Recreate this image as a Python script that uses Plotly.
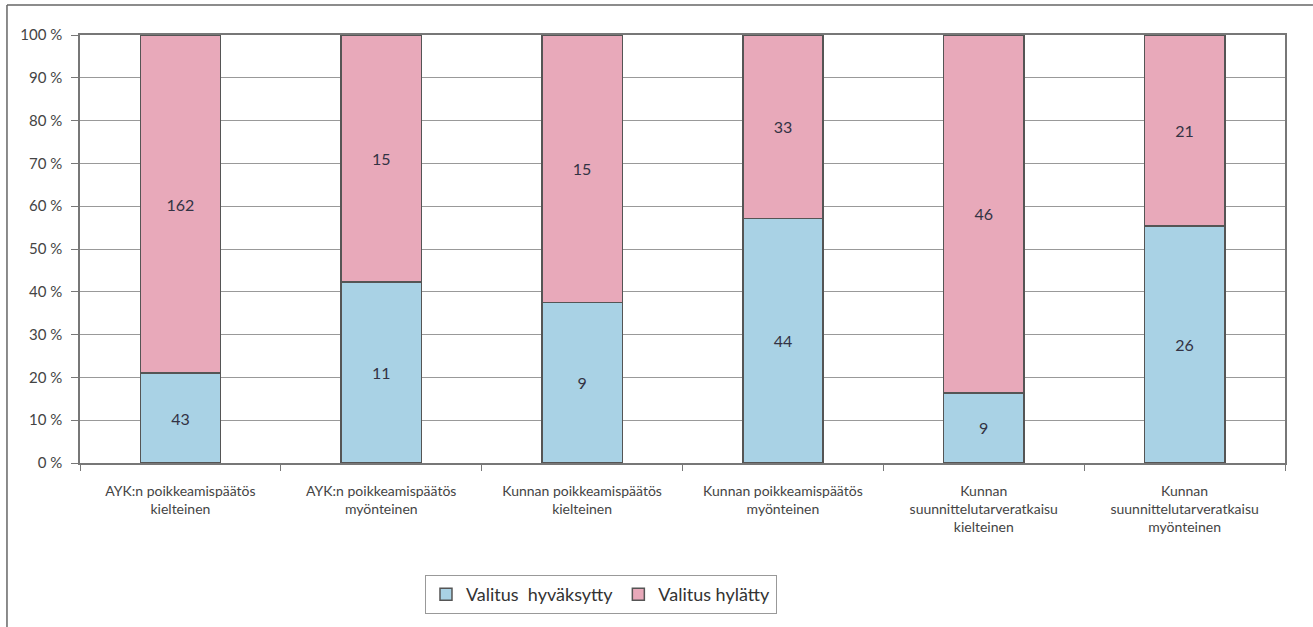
import plotly.graph_objects as go

categories = [
    "AYK:n poikkeamispäätös<br>kielteinen",
    "AYK:n poikkeamispäätös<br>myönteinen",
    "Kunnan poikkeamispäätös<br>kielteinen",
    "Kunnan poikkeamispäätös<br>myönteinen",
    "Kunnan<br>suunnittelutarveratkaisu<br>kielteinen",
    "Kunnan<br>suunnittelutarveratkaisu<br>myönteinen",
]
hyvaksytty = [43, 11, 9, 44, 9, 26]
hylatty = [162, 15, 15, 33, 46, 21]
series_names = ["Valitus  hyväksytty", "Valitus hylätty"]
y_ticks = [0, 10, 20, 30, 40, 50, 60, 70, 80, 90, 100]

FONT = "Lato, 'Open Sans', sans-serif"
fig = go.Figure()
fig.add_trace(go.Bar(
    x=categories, y=hyvaksytty, name=series_names[0],
    marker=dict(color="#a9d2e5", line=dict(color="#555555", width=1.5)),
    text=[str(v) for v in hyvaksytty], textposition="inside",
    insidetextanchor="middle", textfont=dict(size=16, color="#333344", family=FONT),
))
fig.add_trace(go.Bar(
    x=categories, y=hylatty, name=series_names[1],
    marker=dict(color="#e8a9ba", line=dict(color="#555555", width=1.5)),
    text=[str(v) for v in hylatty], textposition="inside",
    insidetextanchor="middle", textfont=dict(size=16, color="#333344", family=FONT),
))

fig.update_layout(
    barmode="stack", barnorm="percent", bargap=0.6,
    width=1313, height=627,
    margin=dict(l=80, r=28, t=35, b=164),
    paper_bgcolor="white", plot_bgcolor="white",
    font=dict(family=FONT, color="#444444", size=14),
    showlegend=True,
    legend=dict(orientation="h", x=0.2863, y=-0.2617, xanchor="left", yanchor="top",
                bordercolor="#999999", borderwidth=1, font=dict(size=18, color="#333333"),
                traceorder="normal", itemwidth=30),
    uniformtext=dict(minsize=8, mode="show"),
)
fig.update_yaxes(range=[0, 100], tickvals=y_ticks, ticktext=[f"{v} %" for v in y_ticks],
                 showgrid=True, gridcolor="#999999", gridwidth=1,
                 showline=True, linecolor="#777777", linewidth=1.5, mirror=True,
                 ticks="outside", ticklen=7, tickcolor="#777777", ticklabelstandoff=6,
                 tickfont=dict(size=15, color="#444444"), zeroline=False)
fig.update_xaxes(showline=True, linecolor="#777777", linewidth=1.5, mirror=True,
                 ticks="outside", tickson="boundaries", ticklen=6, tickcolor="#777777",
                 ticklabelstandoff=14,
                 tickfont=dict(size=14, color="#444444"), tickangle=0)

# outer frame (left and top edges)
fig.add_shape(type="line", xref="paper", yref="paper", x0=-0.0606, x1=-0.0606, y0=1.0701, y1=-0.3832,
              line=dict(color="#666666", width=1.5))
fig.add_shape(type="line", xref="paper", yref="paper", x0=-0.0606, x1=1.0232, y0=1.0701, y1=1.0701,
              line=dict(color="#666666", width=1.5))

fig.write_html("out.html", config={"displayModeBar": False},
               post_script="document.body.style.margin='0';")
